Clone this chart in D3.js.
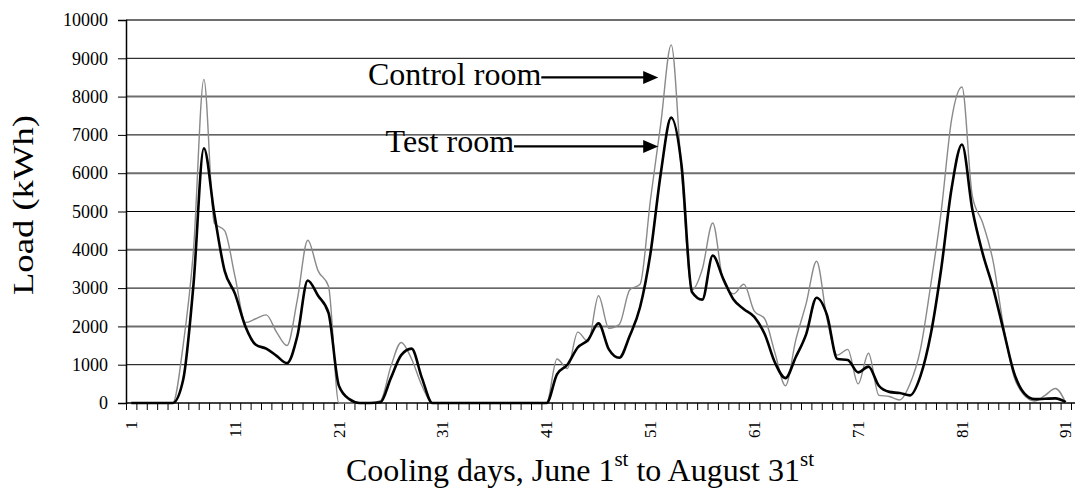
<!DOCTYPE html>
<html>
<head>
<meta charset="utf-8">
<script src="https://cdn.jsdelivr.net/npm/d3@7"></script>
<style>
body { margin: 0; background: #fff; }
text { font-family: "Liberation Serif", "Times New Roman", serif; fill: #000; }
</style>
</head>
<body>
<div id="chart"></div>
<script>
var days = d3.range(1, 92);
var dayLabels = [1, 11, 21, 31, 41, 51, 61, 71, 81, 91];
var loadTicks = [0, 1000, 2000, 3000, 4000, 5000, 6000, 7000, 8000, 9000, 10000];

var testRoom = [
    0, 0, 0, 0, 0, 600, 3100, 6650, 4950, 3450,
    2850, 2000, 1520, 1420, 1230, 1040, 1750, 3200, 2800, 2350,
    450, 100, 0, 0, 20, 650, 1250, 1420, 650, 0,
    0, 0, 0, 0, 0, 0, 0, 0, 0, 0,
    0, 750, 1000, 1450, 1650, 2080, 1400, 1180, 1750, 2500,
    3900, 6000, 7450, 6200, 2900, 2700, 3850, 3250, 2700, 2450,
    2250, 1800, 1050, 650, 1200, 1800, 2750, 2300, 1150, 1120,
    800, 950, 450, 290, 260, 200, 700, 1800, 3500, 5600,
    6750, 5050, 3900, 3000, 1900, 800, 250, 100, 110, 120,
    20
];

var controlRoom = [
    0, 0, 0, 0, 0, 1500, 4000, 8450, 4700, 4500,
    3300, 2100, 2200, 2300, 1850, 1500, 2700, 4250, 3450, 3050,
    0, 0, 0, 0, 60, 950, 1580, 1150, 450, 0,
    0, 0, 0, 0, 0, 0, 0, 0, 0, 0,
    0, 1150, 900, 1850, 1600, 2800, 1950, 2050, 2950, 3100,
    5300, 7300, 9350, 6000, 2950, 3500, 4700, 3200, 2850, 3100,
    2400, 2200, 1300, 450, 1650, 2600, 3700, 2200, 1250, 1400,
    500, 1300, 200, 170, 80, 500, 1400, 3100, 5000, 7400,
    8250, 5400, 4700, 3700, 2000, 700, 200, 50, 200, 380,
    0
];

var notes = [
    { label: "Control room", startDay: 23.8, tipDay: 51.75, value: 8500, dy: 8 },
    { label: "Test room", startDay: 25.5, tipDay: 51.75, value: 6700, dy: 6 }
];

var svgWidth = 1075, svgHeight = 489;
var margin = { top: 20, right: 4, bottom: 86, left: 126 };
var width = svgWidth - margin.left - margin.right;
var height = svgHeight - margin.top - margin.bottom;
var gridRight = svgWidth - margin.left;

var svg = d3.select("#chart").append("svg")
    .attr("width", svgWidth)
    .attr("height", svgHeight);

var g = svg.append("g")
    .attr("transform", "translate(" + margin.left + "," + margin.top + ")");

var x = d3.scaleLinear()
    .domain([0.5, days.length + 0.5])
    .range([0, width]);

var y = d3.scaleLinear()
    .domain([0, 10000])
    .range([height, 0]);

// grid
g.selectAll(".grid")
    .data(loadTicks.slice(1))
    .enter().append("line")
    .attr("x1", 0)
    .attr("x2", gridRight)
    .attr("y1", function(d) { return y(d); })
    .attr("y2", function(d) { return y(d); })
    .attr("stroke", function(d) { return (d / 1000) % 2 === 0 ? "#6e6e6e" : "#000"; })
    .attr("stroke-width", function(d) { return (d / 1000) % 2 === 0 ? 2 : 1; });

// y axis
var yAxis = g.append("g")
    .call(d3.axisLeft(y).tickValues(loadTicks).tickSize(8).tickPadding(10).tickFormat(d3.format("d")));
yAxis.selectAll("text")
    .attr("font-family", "Liberation Serif")
    .attr("font-size", 18)
    .attr("fill", "#000");
yAxis.select(".domain").attr("stroke-width", 1.5);

// x axis, ticks between days
var xAxis = g.append("g")
    .attr("transform", "translate(0," + height + ")")
    .call(d3.axisBottom(x)
        .tickValues(d3.range(0.5, days.length + 1, 1))
        .tickSize(7)
        .tickSizeOuter(0)
        .tickFormat(""));
xAxis.select(".domain").remove();
xAxis.append("line")
    .attr("x1", 0).attr("x2", gridRight)
    .attr("stroke", "#000")
    .attr("stroke-width", 1.5);

g.selectAll(".xlabel")
    .data(dayLabels)
    .enter().append("text")
    .attr("transform", function(d) { return "translate(" + x(d) + "," + (height + 18) + ") rotate(-90)"; })
    .attr("dy", "0.33em")
    .attr("text-anchor", "end")
    .attr("font-size", 17)
    .text(function(d) { return d; });

var line = d3.line()
    .x(function(d, i) { return x(days[i]); })
    .y(function(d) { return y(d); })
    .curve(d3.curveMonotoneX);

g.append("path")
    .datum(controlRoom)
    .attr("fill", "none")
    .attr("stroke", "#8a8a8a")
    .attr("stroke-width", 1.4)
    .attr("stroke-linejoin", "round")
    .attr("d", line);

g.append("path")
    .datum(testRoom)
    .attr("fill", "none")
    .attr("stroke", "#000")
    .attr("stroke-width", 2.6)
    .attr("stroke-linejoin", "round")
    .attr("d", line);

// annotations
notes.forEach(function(n) {
    var t = g.append("text")
        .attr("x", x(n.startDay))
        .attr("y", y(n.value) + n.dy)
        .attr("font-size", 32)
        .text(n.label);
    var x0 = x(n.startDay) + t.node().getComputedTextLength();
    var tip = x(n.tipDay), yy = y(n.value);
    g.append("line")
        .attr("x1", x0).attr("x2", tip - 12)
        .attr("y1", yy).attr("y2", yy)
        .attr("stroke", "#000")
        .attr("stroke-width", 2.3);
    g.append("path")
        .attr("d", "M" + tip + "," + yy + "L" + (tip - 15) + "," + (yy - 6.5) + "L" + (tip - 15) + "," + (yy + 6.5) + "Z")
        .attr("fill", "#000");
});

// titles
svg.append("text")
    .attr("transform", "translate(33,205) rotate(-90)")
    .attr("text-anchor", "middle")
    .attr("font-size", 30)
    .attr("textLength", 180)
    .attr("lengthAdjust", "spacingAndGlyphs")
    .text("Load (kWh)");

var xt = svg.append("text")
    .attr("x", 580)
    .attr("y", 481)
    .attr("text-anchor", "middle")
    .attr("font-size", 32);
xt.append("tspan").text("Cooling days, June 1");
xt.append("tspan").attr("font-size", 21).attr("dy", -15).text("st");
xt.append("tspan").attr("dy", 15).text(" to August 31");
xt.append("tspan").attr("font-size", 21).attr("dy", -15).text("st");
</script>
</body>
</html>
